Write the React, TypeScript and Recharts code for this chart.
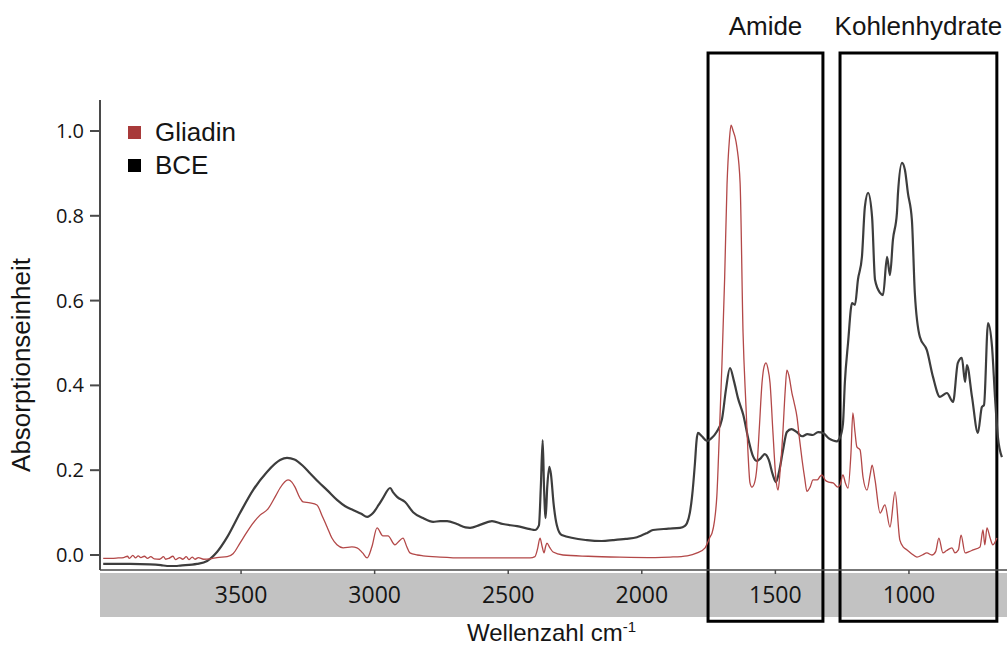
import React from 'react';
import { LineChart, Line, XAxis, YAxis, ReferenceArea, Legend } from 'recharts';

// FTIR absorbance spectra: wavenumbers (cm-1) and absorbance units
const bceWavenumbers = [
  4016, 3915, 3841, 3800, 3777, 3745, 3728, 3665, 3627, 3590,
  3552, 3504, 3455, 3403, 3354, 3328, 3300, 3270, 3242, 3210,
  3178, 3141, 3110, 3081, 3050, 3028, 3006, 2985, 2969, 2942,
  2930, 2916, 2886, 2856, 2819, 2781, 2755, 2729, 2692, 2660,
  2643, 2606, 2575, 2561, 2520, 2467, 2418, 2400, 2385, 2378,
  2371, 2366, 2360, 2354, 2346, 2340, 2330, 2318, 2300, 2205,
  2150, 2108, 2060, 2018, 1980, 1958, 1900, 1857, 1840, 1831,
  1820, 1812, 1801, 1795, 1790, 1775, 1756, 1740, 1720, 1700,
  1685, 1670, 1655, 1640, 1620, 1600, 1585, 1570, 1555, 1540,
  1525, 1510, 1498, 1485, 1472, 1457, 1440, 1420, 1400, 1380,
  1360, 1340, 1320, 1300, 1284, 1270, 1258, 1247, 1240, 1228,
  1213, 1202, 1191, 1176, 1165, 1153, 1138, 1127, 1108, 1097,
  1082, 1071, 1060, 1045, 1041, 1026, 1015, 1004, 989, 978,
  959, 933, 910, 884, 858, 835, 817, 802, 790, 783,
  764, 742, 727, 719, 704, 689, 678, 667, 652,
];
const bceAbsorbance = [
  -0.021, -0.021, -0.022, -0.024, -0.026, -0.026, -0.025, -0.021, -0.014, 0.007,
  0.042, 0.099, 0.153, 0.196, 0.224, 0.229, 0.225, 0.211, 0.193, 0.172,
  0.153, 0.130, 0.115, 0.106, 0.097, 0.090, 0.099, 0.118, 0.134, 0.158,
  0.147, 0.137, 0.125, 0.101, 0.087, 0.078, 0.080, 0.080, 0.073, 0.065,
  0.064, 0.071, 0.078, 0.080, 0.073, 0.068, 0.061, 0.059, 0.070, 0.160,
  0.271, 0.160, 0.087, 0.160, 0.208, 0.190, 0.120, 0.070, 0.047, 0.035,
  0.033, 0.035, 0.038, 0.042, 0.052, 0.059, 0.062, 0.064, 0.068, 0.075,
  0.100, 0.137, 0.217, 0.270, 0.288, 0.280, 0.269, 0.275, 0.290, 0.320,
  0.390, 0.441, 0.410, 0.370, 0.330, 0.270, 0.235, 0.222, 0.228, 0.238,
  0.225, 0.190, 0.172, 0.200, 0.245, 0.290, 0.297, 0.290, 0.280, 0.285,
  0.283, 0.290, 0.287, 0.275, 0.270, 0.268, 0.277, 0.310, 0.406, 0.500,
  0.594, 0.590, 0.649, 0.703, 0.821, 0.854, 0.797, 0.649, 0.618, 0.613,
  0.703, 0.660, 0.743, 0.807, 0.854, 0.925, 0.908, 0.854, 0.790, 0.618,
  0.514, 0.483, 0.420, 0.373, 0.382, 0.361, 0.453, 0.465, 0.408, 0.448,
  0.373, 0.288, 0.349, 0.354, 0.547, 0.491, 0.373, 0.278, 0.231,
];

const gliadinWavenumbers = [
  4016, 3985, 3960, 3940, 3925, 3918, 3905, 3895, 3885, 3875,
  3862, 3850, 3838, 3825, 3805, 3790, 3782, 3770, 3755, 3745,
  3730, 3718, 3705, 3695, 3683, 3672, 3660, 3640, 3616, 3590,
  3552, 3530, 3504, 3480, 3455, 3429, 3400, 3370, 3354, 3324,
  3310, 3298, 3280, 3268, 3242, 3216, 3195, 3178, 3160, 3141,
  3118, 3085, 3066, 3045, 3028, 3010, 2991, 2969, 2950, 2924,
  2905, 2894, 2880, 2868, 2840, 2819, 2755, 2669, 2542, 2418,
  2400, 2390, 2381, 2373, 2366, 2360, 2355, 2345, 2332, 2295,
  2200, 2082, 1950, 1894, 1830, 1793, 1763, 1745, 1737, 1728,
  1719, 1710, 1700, 1690, 1681, 1672, 1666, 1658, 1651, 1644,
  1632, 1621, 1610, 1603, 1595, 1588, 1578, 1569, 1560, 1550,
  1542, 1535, 1528, 1520, 1509, 1498, 1490, 1482, 1472, 1463,
  1457, 1450, 1438, 1430, 1419, 1410, 1400, 1390, 1382, 1370,
  1359, 1344, 1333, 1326, 1314, 1300, 1284, 1266, 1258, 1247,
  1238, 1228, 1217, 1210, 1202, 1195, 1183, 1172, 1157, 1145,
  1138, 1127, 1108, 1090, 1071, 1052, 1034, 1020, 1007, 990,
  970, 950, 933, 914, 900, 888, 873, 860, 839, 828,
  815, 805, 790, 775, 760, 734, 723, 716, 708, 697,
  686, 671,
];
const gliadinAbsorbance = [
  -0.008, -0.008, -0.007, -0.006, -0.003, -0.008, -0.001, -0.007, -0.002, -0.006,
  -0.003, -0.008, -0.004, -0.009, -0.010, -0.004, -0.010, -0.008, -0.003, -0.011,
  -0.006, -0.010, -0.004, -0.011, -0.005, -0.010, -0.006, -0.010, -0.009, -0.006,
  -0.004, 0.003, 0.028, 0.052, 0.075, 0.094, 0.108, 0.140, 0.158, 0.177,
  0.172, 0.160, 0.135, 0.125, 0.123, 0.118, 0.090, 0.066, 0.040, 0.024,
  0.017, 0.019, 0.017, 0.005, -0.007, 0.020, 0.064, 0.045, 0.045, 0.024,
  0.035, 0.040, 0.020, 0.005, 0.000, -0.002, -0.005, -0.007, -0.007, -0.007,
  -0.004, 0.015, 0.040, 0.020, 0.005, 0.020, 0.028, 0.018, 0.007, 0.000,
  -0.003, -0.005, -0.006, -0.005, -0.002, 0.005, 0.017, 0.042, 0.052, 0.080,
  0.140, 0.280, 0.450, 0.650, 0.873, 0.980, 1.014, 1.000, 0.986, 0.962,
  0.877, 0.524, 0.350, 0.248, 0.170, 0.160, 0.170, 0.208, 0.300, 0.406,
  0.445, 0.453, 0.440, 0.406, 0.288, 0.180, 0.153, 0.200, 0.288, 0.390,
  0.436, 0.425, 0.382, 0.360, 0.325, 0.275, 0.224, 0.180, 0.150, 0.160,
  0.177, 0.177, 0.185, 0.189, 0.177, 0.172, 0.170, 0.160, 0.165, 0.189,
  0.170, 0.158, 0.241, 0.335, 0.290, 0.255, 0.248, 0.184, 0.153, 0.190,
  0.212, 0.177, 0.099, 0.118, 0.066, 0.149, 0.035, 0.018, 0.012, 0.003,
  -0.005, 0.000, 0.005, 0.000, 0.008, 0.040, 0.005, 0.010, 0.017, 0.005,
  0.012, 0.047, 0.005, 0.008, 0.012, 0.019, 0.059, 0.024, 0.064, 0.042,
  0.024, 0.040,
];

const xTicks = [3500, 3000, 2500, 2000, 1500, 1000];
const yTicks = [0, 0.2, 0.4, 0.6, 0.8, 1.0];

// Spectral regions marked with a frame (from / to wavenumber)
const regionNames = ['Amide', 'Kohlenhydrate'];
const regionFrom = [1752, 1258];
const regionTo = [1322, 671];

const legendOrder = ['Gliadin', 'BCE'];
const swatchColors: Record<string, string> = { Gliadin: '#a83a3a', BCE: '#000000' };

const SANS = '"Liberation Sans", Arial, sans-serif';
const TICK_FONT = '"Open Sans", "DejaVu Sans", sans-serif';
const TEXT = '#151515';

const X_DOMAIN: [number, number] = [633, 4028];
const Y_DOMAIN: [number, number] = [-0.0354, 1.0731];

const toRows = (wn: number[], abs: number[]) => wn.map((w, i) => ({ wn: w, abs: abs[i] }));
const bceRows = toRows(bceWavenumbers, bceAbsorbance);
const gliadinRows = toRows(gliadinWavenumbers, gliadinAbsorbance);

const renderLegend = (props: any) => {
  const items: any[] = props.payload || [];
  const ordered = legendOrder
    .map((n) => items.find((p) => p.value === n))
    .filter(Boolean);
  return (
    <div style={{ fontFamily: SANS, fontSize: 26, color: TEXT, lineHeight: '33px' }}>
      {ordered.map((p: any) => (
        <div key={p.value} style={{ display: 'flex', alignItems: 'center', whiteSpace: 'nowrap' }}>
          <span
            style={{
              display: 'inline-block',
              width: 13,
              height: 13,
              background: swatchColors[p.value] || p.color,
              marginRight: 14,
            }}
          />
          {p.value}
        </div>
      ))}
    </div>
  );
};

const XTitle = (props: any) => {
  const vb = props.viewBox || {};
  const cx = vb.x + vb.width / 2 - 2;
  const y = vb.y + vb.height - 5;
  return (
    <text x={cx} y={y} textAnchor="middle" fontFamily={SANS} fontSize={24} fill={TEXT}>
      Wellenzahl cm
      <tspan dy={-9} fontSize={15}>-1</tspan>
    </text>
  );
};

const YTitle = (props: any) => {
  const vb = props.viewBox || {};
  const x = vb.x + 30;
  const y = vb.y + vb.height / 2 + 30;
  return (
    <text
      x={x}
      y={y}
      transform={`rotate(-90, ${x}, ${y})`}
      textAnchor="middle"
      fontFamily={SANS}
      fontSize={26}
      fill={TEXT}
    >
      Absorptionseinheit
    </text>
  );
};

export default function App() {
  return (
    <div style={{ position: 'absolute', left: 0, top: 0, width: 1007, height: 646, background: '#fff' }}>
      <LineChart width={1007} height={646} margin={{ top: 100, right: 0, bottom: 0, left: 0 }}>
        {/* grey band behind the wavenumber scale */}
        <ReferenceArea
          x1={X_DOMAIN[1]}
          x2={X_DOMAIN[0]}
          y1={-0.0425}
          y2={-0.146}
          ifOverflow="visible"
          fill="#c2c2c2"
          fillOpacity={1}
          stroke="none"
        />
        <XAxis
          dataKey="wn"
          type="number"
          domain={X_DOMAIN}
          reversed
          allowDataOverflow
          ticks={xTicks}
          interval={0}
          height={76}
          tickSize={4}
          tickMargin={13}
          stroke="#4a4a4a"
          strokeWidth={1.5}
          tick={{ fontSize: 23, fontFamily: TICK_FONT, fill: TEXT }}
          label={{ content: XTitle }}
        />
        <YAxis
          type="number"
          domain={Y_DOMAIN}
          allowDataOverflow
          ticks={yTicks}
          interval={0}
          width={100}
          tickSize={10}
          tickMargin={6}
          stroke="#4a4a4a"
          strokeWidth={2}
          tickFormatter={(v: number) => v.toFixed(1)}
          tick={{ fontSize: 20, fontFamily: TICK_FONT, fill: TEXT }}
          label={{ content: YTitle }}
        />
        <Line
          data={bceRows}
          dataKey="abs"
          name="BCE"
          type="monotone"
          stroke="#3d3d3d"
          strokeWidth={2.2}
          dot={false}
          activeDot={false}
          isAnimationActive={false}
        />
        <Line
          data={gliadinRows}
          dataKey="abs"
          name="Gliadin"
          type="monotone"
          stroke="#b34848"
          strokeWidth={1.3}
          dot={false}
          activeDot={false}
          isAnimationActive={false}
        />
        {regionNames.map((name, i) => (
          <ReferenceArea
            key={name}
            x1={regionFrom[i]}
            x2={regionTo[i]}
            y1={-0.156}
            y2={1.184}
            ifOverflow="visible"
            fill="none"
            stroke="#000"
            strokeWidth={3}
            label={{
              value: name,
              position: 'top',
              offset: 18,
              fontSize: 26,
              fontFamily: SANS,
              fill: TEXT,
            }}
          />
        ))}
        <Legend
          layout="vertical"
          align="center"
          verticalAlign="middle"
          content={renderLegend}
          wrapperStyle={{ left: 128, top: 116, width: 'auto', height: 'auto' }}
        />
      </LineChart>
    </div>
  );
}
